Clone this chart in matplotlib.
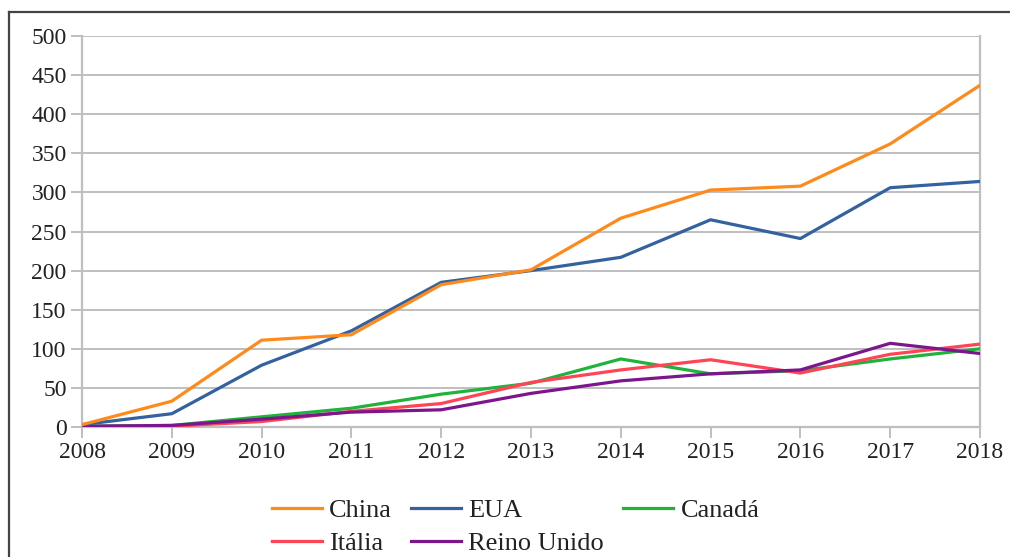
import matplotlib
matplotlib.use("Agg")
import matplotlib.pyplot as plt
from matplotlib.lines import Line2D

plt.rcParams.update({"font.family": "Liberation Serif", "figure.facecolor": "white"})

years = [2008, 2009, 2010, 2011, 2012, 2013, 2014, 2015, 2016, 2017, 2018]
china = [3, 33, 111, 118, 182, 201, 267, 303, 308, 362, 437]
eua = [3, 17, 79, 123, 185, 200, 217, 265, 241, 306, 314]
canada = [1, 2, 13, 24, 42, 56, 87, 68, 72, 87, 100]
italia = [0, 1, 7, 20, 30, 57, 73, 86, 69, 93, 106]
reino_unido = [1, 2, 10, 19, 22, 43, 59, 68, 73, 107, 94]

GRID = "#bfbfbf"
fig = plt.figure(figsize=(10.10, 5.57), dpi=100)
ax = fig.add_axes([82/1010, 130/557, 898/1010, 391/557])

series = [("China", china, "#ff8a1c"), ("Itália", italia, "#ff4455"),
          ("EUA", eua, "#33629e"), ("Reino Unido", reino_unido, "#7d168c"),
          ("Canadá", canada, "#1fb33c")]
draw_order = ["Canadá", "Itália", "Reino Unido", "EUA", "China"]
lines = {}
for name, vals, col in series:
    lines[name], = ax.plot(years, vals, color=col, lw=2.3, label=name,
                           zorder=3 + draw_order.index(name))

ax.set_xlim(2008, 2018)
ax.set_ylim(0, 500)
ax.set_xticks(years)
ax.set_yticks(range(0, 501, 50))
ax.grid(axis="y", color=GRID, lw=1.4)
ax.set_axisbelow(True)
for s in ["left", "right", "bottom"]:
    ax.spines[s].set_color(GRID)
    ax.spines[s].set_linewidth(1.6)
ax.spines["top"].set_visible(False)
ax.tick_params(axis="both", length=8, width=1.4, color=GRID, labelsize=17, labelcolor="#222222")
ax.tick_params(axis="x", pad=3)
ax.tick_params(axis="y", pad=3)

handles = [lines[n] for n, _, _ in series]
fig.legend(handles=handles, labels=[h.get_label() for h in handles], ncol=3,
           loc="upper left", bbox_to_anchor=(272/1010, 1 - 499/557), frameon=False,
           fontsize=19, handlelength=1.9, handletextpad=0.27, columnspacing=0.72,
           labelspacing=0.36, borderaxespad=0, borderpad=0, labelcolor="#222222")

# frame of the original figure box
fig.add_artist(Line2D([9/1010, 9/1010], [0, 1 - 12/557], transform=fig.transFigure,
                      color="#444444", lw=1.6))
fig.add_artist(Line2D([9/1010, 1], [1 - 12/557, 1 - 12/557], transform=fig.transFigure,
                      color="#444444", lw=1.6))

fig.savefig("out.png", dpi=100)
